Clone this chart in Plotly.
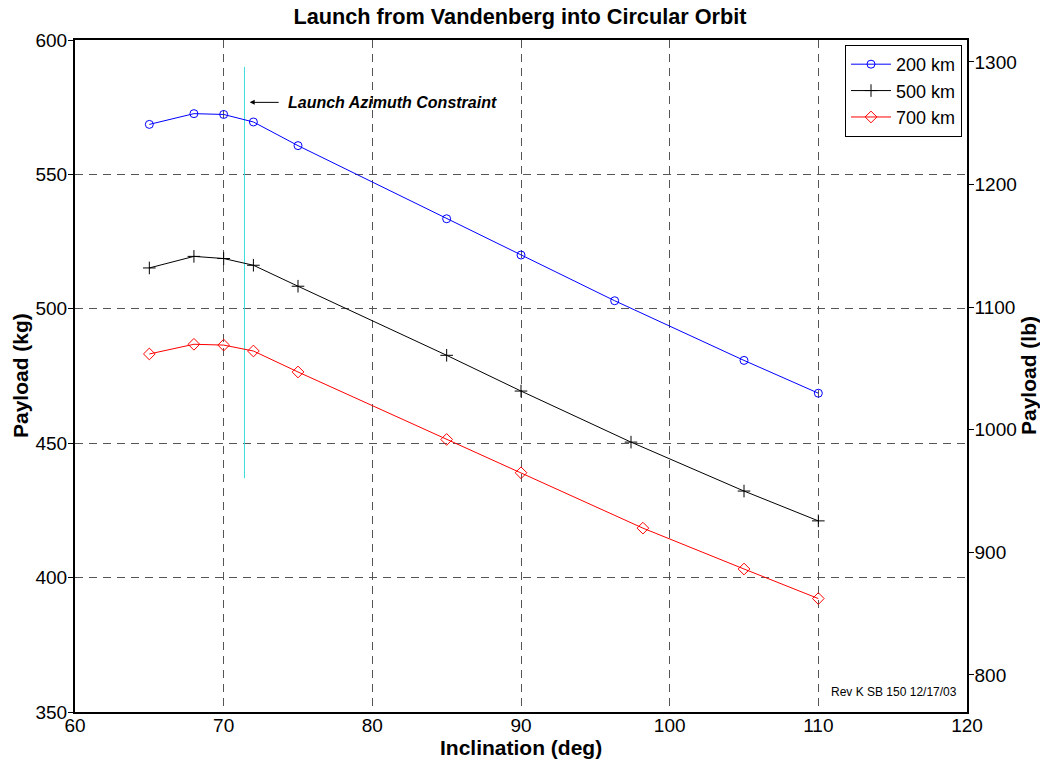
import plotly.graph_objects as go

# ---- data ----
incl_200 = [65, 68, 70, 72, 75, 85, 90, 96.3, 105, 110]
pay_200 = [568.6, 572.6, 572.3, 569.5, 560.7, 533.5, 520.0, 503.0, 480.8, 468.6]

incl_500 = [65, 68, 70, 72, 75, 85, 90, 97.4, 105, 110]
pay_500 = [515.2, 519.5, 518.7, 516.2, 508.4, 482.7, 469.4, 450.4, 432.2, 421.1]

incl_700 = [65, 68, 70, 72, 75, 85, 90, 98.2, 105, 110]
pay_700 = [483.2, 486.8, 486.5, 484.3, 476.5, 451.4, 439.0, 418.4, 403.2, 392.2]

constraint_x = [71.4, 71.4]
constraint_y = [437, 590]

x_ticks = [60, 70, 80, 90, 100, 110, 120]
y_ticks_kg = [350, 400, 450, 500, 550, 600]
y_ticks_lb = [800, 900, 1000, 1100, 1200, 1300]

FONT = "Liberation Sans, Arial, sans-serif"

fig = go.Figure()

fig.add_trace(go.Scatter(
    x=constraint_x, y=constraint_y, mode="lines",
    line=dict(color="#3cdcdc", width=1), showlegend=False, hoverinfo="skip"))

fig.add_trace(go.Scatter(
    x=incl_200, y=pay_200, mode="lines+markers", name="200 km",
    line=dict(color="#0000ff", width=1),
    marker=dict(symbol="circle-open", size=8, color="#0000ff", line=dict(width=1))))
fig.add_trace(go.Scatter(
    x=incl_500, y=pay_500, mode="lines+markers", name="500 km",
    line=dict(color="#000000", width=1),
    marker=dict(symbol="cross-thin-open", size=9, color="#000000", line=dict(width=1, color="#000000"))))
fig.add_trace(go.Scatter(
    x=incl_700, y=pay_700, mode="lines+markers", name="700 km",
    line=dict(color="#ff0000", width=1),
    marker=dict(symbol="diamond-open", size=9, color="#ff0000", line=dict(width=1))))

# invisible anchor trace so the right-hand (lb) axis is drawn
fig.add_trace(go.Scatter(
    x=[x_ticks[0]], y=[y_ticks_lb[0]], yaxis="y2", mode="markers",
    marker=dict(opacity=0), showlegend=False, hoverinfo="skip"))

grid = dict(showgrid=True, gridcolor="#555555", gridwidth=1, griddash="8px,6px")

fig.update_layout(
    width=1040, height=763,
    margin=dict(l=75, r=73, t=40, b=51),
    paper_bgcolor="white", plot_bgcolor="white",
    font=dict(family=FONT, size=18, color="black"),
    title=dict(text="<b>Launch from Vandenberg into Circular Orbit</b>",
               x=0.5, xanchor="center", y=1 - 16 / 763, yanchor="middle",
               yref="container", font=dict(size=21.7, family=FONT)),
    xaxis=dict(range=[60, 120], tickvals=x_ticks, ticks="", zeroline=False,
               showline=True, linecolor="black", linewidth=2, mirror=True,
               ticklabelstandoff=-5,
               tickfont=dict(size=19), **grid),
    yaxis=dict(range=[350, 600], tickvals=y_ticks_kg, ticks="outside", ticklen=5,
               tickcolor="black", zeroline=False, ticklabelstandoff=-3,
               showline=True, linecolor="black", linewidth=2, mirror=True,
               tickfont=dict(size=19), **grid),
    yaxis2=dict(range=[769.8, 1317.9], tickvals=y_ticks_lb, overlaying="y", side="right",
                ticks="outside", ticklen=5, tickcolor="black", showgrid=False,
                zeroline=False, showline=True, linecolor="black", linewidth=1.5,
                ticklabelstandoff=-3, tickfont=dict(size=19)),
    legend=dict(x=0.9944, y=0.9926, xanchor="right", yanchor="top",
                bgcolor="white", bordercolor="black", borderwidth=1,
                font=dict(size=18), tracegroupgap=0, itemwidth=40),
    showlegend=True,
)

annotations = [
    dict(x=71.75, y=576.8, ax=73.8, ay=576.8, xref="x", yref="y", axref="x", ayref="y",
         showarrow=True, arrowhead=2, arrowsize=1, arrowwidth=1, arrowcolor="black", text=""),
    dict(x=74.2, y=576.8, xref="x", yref="y", xanchor="left", yanchor="middle",
         showarrow=False, text="<b><i>Launch Azimuth Constraint</i></b>",
         font=dict(size=16, family=FONT)),
    dict(x=110.7, y=357.3, xref="x", yref="y", xanchor="left", yanchor="middle",
         showarrow=False, text="Rev K SB 150 12/17/03", font=dict(size=12, family=FONT)),
    dict(x=(20 - 75) / 892, y=0.5, xref="paper", yref="paper", xanchor="center", yanchor="middle",
         textangle=-90, showarrow=False, text="<b>Payload (kg)</b>", font=dict(size=21, family=FONT)),
    dict(x=(1028 - 75) / 892, y=0.5, xref="paper", yref="paper", xanchor="center", yanchor="middle",
         textangle=-90, showarrow=False, text="<b>Payload (lb)</b>", font=dict(size=21, family=FONT)),
    dict(x=0.5, y=(712 - 747) / 672, xref="paper", yref="paper", xanchor="center", yanchor="middle",
         showarrow=False, text="<b>Inclination (deg)</b>", font=dict(size=21, family=FONT)),
]
fig.update_layout(annotations=annotations)

fig.write_html("out.html")
